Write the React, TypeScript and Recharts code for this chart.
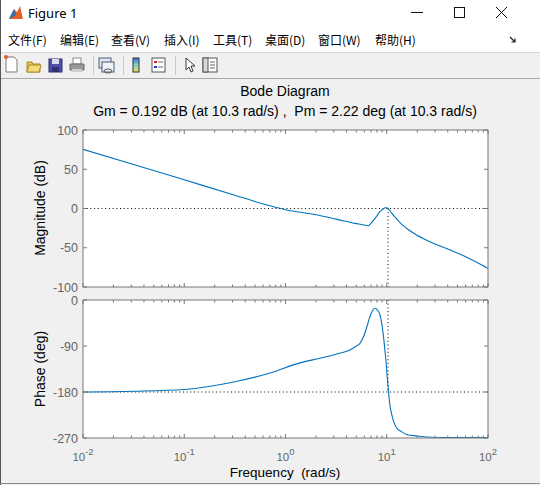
import React from "react";
import { LineChart, Line, XAxis, YAxis, CartesianGrid, ReferenceLine } from "recharts";

// frequency (rad/s) and magnitude (dB)
const magFreq = [
  0.01, 0.0316, 0.1, 0.316, 0.631, 1, 2.0, 3.16, 4.85, 5.62, 6.58, 7.08, 7.66, 8.13,
  8.57, 9.12, 9.66, 10, 10.3, 10.7, 11.2, 12.3, 13.5, 15.8, 19.7, 24.0, 28.8, 42.2,
  61.7, 89.7, 100,
];
const magDb = [
  75.4, 56, 36.5, 17, 5, -1.5, -8, -13.5, -18.9, -20.3, -21.9, -18, -12.5, -8,
  -4, -1, 1, 1, -0.2, -2.5, -6, -12, -18, -25.5, -33.8, -39.5, -44.3, -52.9,
  -62, -73, -76.5,
];

// frequency (rad/s) and phase (deg)
const phaseFreq = [
  0.01, 0.0316, 0.1, 0.316, 0.703, 1.39, 2.19, 3.21, 4.34, 5.01, 5.45, 5.89, 6.31,
  6.82, 7.33, 7.71, 8.13, 8.57, 8.91, 9.25, 9.55, 9.84, 10.1, 10.4, 10.7, 11.2,
  11.7, 12.5, 14.1, 15.7, 20, 24.8, 39.8, 100,
];
const phaseDeg = [
  -180, -178.5, -175, -160, -143, -123, -114, -105.5, -97.7, -90, -84.6, -72, -55,
  -32.6, -19, -16, -20, -29, -45, -68, -95, -120, -150, -179, -203, -224,
  -238, -250, -258, -263, -266, -268, -269, -269,
];

const crossFreq = 10.3;
const freqTicks = [
  0.01, 0.02, 0.03, 0.04, 0.05, 0.06, 0.07, 0.08, 0.09,
  0.1, 0.2, 0.3, 0.4, 0.5, 0.6, 0.7, 0.8, 0.9,
  1, 2, 3, 4, 5, 6, 7, 8, 9,
  10, 20, 30, 40, 50, 60, 70, 80, 90, 100,
];
const magTicks = [-100, -50, 0, 50, 100];
const phaseTicks = [-270, -180, -90, 0];
const menuItems = [
  { label: "文件(F)", x: 8 },
  { label: "编辑(E)", x: 60 },
  { label: "查看(V)", x: 111 },
  { label: "插入(I)", x: 164 },
  { label: "工具(T)", x: 213 },
  { label: "桌面(D)", x: 265 },
  { label: "窗口(W)", x: 318 },
  { label: "帮助(H)", x: 375 },
];
const titleText = "Bode Diagram";
const marginText = "Gm = 0.192 dB (at 10.3 rad/s) ,  Pm = 2.22 deg (at 10.3 rad/s)";

const magData = magFreq.map((w, i) => ({ w, v: magDb[i] }));
const phaseData = phaseFreq.map((w, i) => ({ w, v: phaseDeg[i] }));

const FONT = '"Liberation Sans", Arial, Helvetica, sans-serif';
const CJK = '"Noto Sans CJK SC", "Noto Sans", sans-serif';
const TICK = "#666666";
const BOX = "#777777";
const CURVE = "#0072BD";
const DOTS = "1 2.7";

const isMajor = (v: number) => Math.abs(Math.log10(v) - Math.round(Math.log10(v))) < 1e-6;

function BottomTick(props: any) {
  const { x, y, payload, showLabel } = props;
  const major = isMajor(payload.value);
  const exp = Math.round(Math.log10(payload.value));
  return (
    <g>
      <line x1={x} x2={x} y1={y} y2={y - (major ? 4 : 2.5)} stroke={BOX} />
      {showLabel && major && (
        <text x={x} y={y + 23} textAnchor="middle" fill={TICK} fontSize={11.5} fontFamily={FONT}>
          10
          <tspan dy={-6} fontSize={9.5}>{exp}</tspan>
        </text>
      )}
    </g>
  );
}

function TopTick(props: any) {
  const { x, y, payload } = props;
  const major = isMajor(payload.value);
  return <line x1={x} x2={x} y1={y} y2={y + (major ? 4 : 2.5)} stroke={BOX} />;
}

function LeftTick(props: any) {
  const { x, y, payload } = props;
  return (
    <g>
      <line x1={x} x2={x + 4} y1={y} y2={y} stroke={BOX} />
      <text x={x - 5} y={y} dy="0.36em" textAnchor="end" fill={TICK} fontSize={12.5} fontFamily={FONT}>
        {payload.value}
      </text>
    </g>
  );
}

function RightTick(props: any) {
  const { x, y } = props;
  return <line x1={x} x2={x - 4} y1={y} y2={y} stroke={BOX} />;
}

function BodePanel({ data, ticks, domain, height, bottomHeight, showLabels, refY, segY }: any) {
  return (
    <LineChart
      width={540}
      height={height}
      data={data}
      margin={{ top: 0, right: 42, bottom: 0, left: 38 }}
    >
      <CartesianGrid horizontal={false} vertical={false} fill="#ffffff" />
      <XAxis
        dataKey="w"
        type="number"
        scale="log"
        domain={[0.01, 100]}
        allowDataOverflow
        ticks={freqTicks}
        interval={0}
        height={bottomHeight}
        tickSize={0}
        tickMargin={0}
        axisLine={{ stroke: BOX }}
        tickLine={false}
        tick={(p: any) => <BottomTick {...p} showLabel={showLabels} />}
      />
      <XAxis
        xAxisId="t"
        orientation="top"
        dataKey="w"
        type="number"
        scale="log"
        domain={[0.01, 100]}
        allowDataOverflow
        ticks={freqTicks}
        interval={0}
        height={10}
        tickSize={0}
        tickMargin={0}
        axisLine={{ stroke: BOX }}
        tickLine={false}
        tick={(p: any) => <TopTick {...p} />}
      />
      <YAxis
        type="number"
        domain={domain}
        allowDataOverflow
        ticks={ticks}
        interval={0}
        width={45}
        tickSize={0}
        tickMargin={0}
        axisLine={{ stroke: BOX }}
        tickLine={false}
        tick={(p: any) => <LeftTick {...p} />}
      />
      <YAxis
        yAxisId="r"
        orientation="right"
        type="number"
        domain={domain}
        allowDataOverflow
        ticks={ticks}
        interval={0}
        width={10}
        tickSize={0}
        tickMargin={0}
        axisLine={{ stroke: BOX }}
        tickLine={false}
        tick={(p: any) => <RightTick {...p} />}
      />
      <ReferenceLine y={refY} stroke="#000" strokeDasharray={DOTS} />
      <ReferenceLine
        segment={[
          { x: crossFreq, y: segY[0] },
          { x: crossFreq, y: segY[1] },
        ]}
        stroke="#000"
        strokeDasharray={DOTS}
      />
      <Line
        dataKey="v"
        type="monotone"
        stroke={CURVE}
        strokeWidth={1.1}
        dot={false}
        isAnimationActive={false}
      />
    </LineChart>
  );
}

function Toolbar() {
  return (
    <svg width={540} height={26} style={{ position: "absolute", left: 0, top: 53 }}>
      {/* new */}
      <path d="M6 4 h8 l3 3 v12 h-11 z" fill="#fff" stroke="#7a7a7a" />
      <circle cx={6} cy={4} r={2} fill="#e25a2c" />
      {/* open */}
      <path d="M27 9 h5 l1 2 h7 v8 h-13 z" fill="#e8c648" stroke="#a88a2a" />
      <path d="M29 12 h12 l-2 7 h-12 z" fill="#f3dc7a" stroke="#a88a2a" />
      {/* save */}
      <rect x={49} y={6} width={13} height={13} fill="#4b4fa6" stroke="#2c2f70" />
      <rect x={52} y={6} width={7} height={5} fill="#dcdcf0" />
      <rect x={52} y={14} width={7} height={5} fill="#30336f" />
      {/* print */}
      <rect x={73} y={5} width={8} height={6} fill="#fff" stroke="#888" />
      <path d="M70 11 h14 v6 h-14 z" fill="#9a9a9a" stroke="#6a6a6a" />
      <rect x={72} y={16} width={10} height={3} fill="#cfcfcf" />
      <line x1={93.5} x2={93.5} y1={3} y2={22} stroke="#c8c8c8" />
      {/* link */}
      <rect x={99} y={5} width={12} height={10} fill="#dfe6ef" stroke="#4a5d78" />
      <rect x={102} y={9} width={12} height={10} fill="#eef2f7" stroke="#4a5d78" />
      <ellipse cx={108} cy={18} rx={4} ry={2} fill="none" stroke="#555" />
      <line x1={123.5} x2={123.5} y1={3} y2={22} stroke="#c8c8c8" />
      {/* colorbar */}
      <defs>
        <linearGradient id="cb" x1="0" y1="0" x2="0" y2="1">
          <stop offset="0" stopColor="#3a6fd8" />
          <stop offset="0.5" stopColor="#7fd0c0" />
          <stop offset="1" stopColor="#f5e05a" />
        </linearGradient>
      </defs>
      <rect x={133} y={5} width={6} height={14} fill="url(#cb)" stroke="#333" />
      {/* legend */}
      <rect x={152} y={5} width={13} height={14} fill="#fff" stroke="#555" />
      <rect x={154} y={8} width={3} height={2} fill="#d23" />
      <rect x={154} y={13} width={3} height={2} fill="#23c" />
      <line x1={158} x2={163} y1={9} y2={9} stroke="#666" />
      <line x1={158} x2={163} y1={14} y2={14} stroke="#666" />
      <line x1={175.5} x2={175.5} y1={3} y2={22} stroke="#c8c8c8" />
      {/* pointer */}
      <path d="M186 5 v12 l3 -3 l2 5 l2 -1 l-2 -5 h4 z" fill="#fff" stroke="#222" strokeWidth={0.9} />
      {/* property panel */}
      <rect x={203} y={5} width={14} height={14} fill="#fff" stroke="#555" />
      <rect x={203} y={5} width={5} height={14} fill="#d8d8d8" stroke="#555" />
      <line x1={210} x2={215} y1={9} y2={9} stroke="#666" />
      <line x1={210} x2={215} y1={12} y2={12} stroke="#666" />
      <line x1={210} x2={215} y1={15} y2={15} stroke="#666" />
    </svg>
  );
}

export default function App() {
  return (
    <div
      style={{
        position: "absolute",
        left: 0,
        top: 0,
        width: 540,
        height: 485,
        background: "#f0f0f0",
        overflow: "hidden",
      }}
    >
      {/* title bar */}
      <div style={{ position: "absolute", left: 0, top: 0, width: 540, height: 30, background: "#fff" }} />
      <svg width={540} height={30} style={{ position: "absolute", left: 0, top: 0 }}>
        <path d="M9 19 L14 9 L17 12 L20 6 L23 19 Z" fill="#e0612a" />
        <path d="M9 19 L14 9 L16 15 Z" fill="#2d6fb5" />
        <text x={28} y={17.5} fontSize={13} fontFamily='"Noto Sans", sans-serif' fill="#000">
          Figure 1
        </text>
        <line x1={411} x2={423} y1={12.5} y2={12.5} stroke="#111" />
        <rect x={454.5} y={7.5} width={10} height={10} fill="none" stroke="#111" />
        <line x1={496} x2={507} y1={7} y2={18} stroke="#111" />
        <line x1={507} x2={496} y1={7} y2={18} stroke="#111" />
      </svg>

      {/* menu bar */}
      <div style={{ position: "absolute", left: 0, top: 30, width: 540, height: 22, background: "#fff" }} />
      <svg width={540} height={24} style={{ position: "absolute", left: 0, top: 30 }}>
        {menuItems.map((m) => (
          <text key={m.label} x={m.x} y={15} fontSize={12} fontFamily={CJK} fill="#000">
            {m.label}
          </text>
        ))}
        <path d="M510 7 L515 12 M515 8.5 V12 H511.5" stroke="#222" fill="none" strokeWidth={1.2} />
        <line x1={0} x2={540} y1={22.5} y2={22.5} stroke="#d6d6d6" />
      </svg>

      <Toolbar />
      <div style={{ position: "absolute", left: 0, top: 78, width: 540, height: 1, background: "#a8a8a8" }} />

      {/* window border */}
      <div style={{ position: "absolute", left: 0, top: 0, width: 1, height: 485, background: "#555" }} />
      <div style={{ position: "absolute", left: 0, top: 483, width: 540, height: 1, background: "#8a8a8a" }} />

      {/* magnitude */}
      <div style={{ position: "absolute", left: 0, top: 120 }}>
        <BodePanel
          data={magData}
          ticks={magTicks}
          domain={[-100, 100]}
          height={177}
          bottomHeight={10}
          showLabels={false}
          refY={0}
          segY={[0, -100]}
        />
      </div>

      {/* phase */}
      <div style={{ position: "absolute", left: 0, top: 290 }}>
        <BodePanel
          data={phaseData}
          ticks={phaseTicks}
          domain={[-270, 0]}
          height={188}
          bottomHeight={40}
          showLabels={true}
          refY={-180}
          segY={[0, -180]}
        />
      </div>

      {/* titles and axis labels */}
      <svg width={540} height={485} style={{ position: "absolute", left: 0, top: 0, pointerEvents: "none" }}>
        <text x={285} y={96} textAnchor="middle" fontSize={14} fontFamily={FONT} fill="#000">
          {titleText}
        </text>
        <text x={285} y={116} textAnchor="middle" fontSize={14} fontFamily={FONT} fill="#000" style={{ whiteSpace: "pre" }}>
          {marginText}
        </text>
        <text
          transform="translate(44.5,208) rotate(-90)"
          textAnchor="middle"
          fontSize={14}
          fontFamily={FONT}
          fill="#000"
        >
          Magnitude (dB)
        </text>
        <text
          transform="translate(44.5,369) rotate(-90)"
          textAnchor="middle"
          fontSize={14}
          fontFamily={FONT}
          fill="#000"
        >
          Phase (deg)
        </text>
        <text x={285} y={476.5} textAnchor="middle" fontSize={13.5} fontFamily={FONT} fill="#000" style={{ whiteSpace: "pre" }}>
          Frequency  (rad/s)
        </text>
      </svg>
    </div>
  );
}
